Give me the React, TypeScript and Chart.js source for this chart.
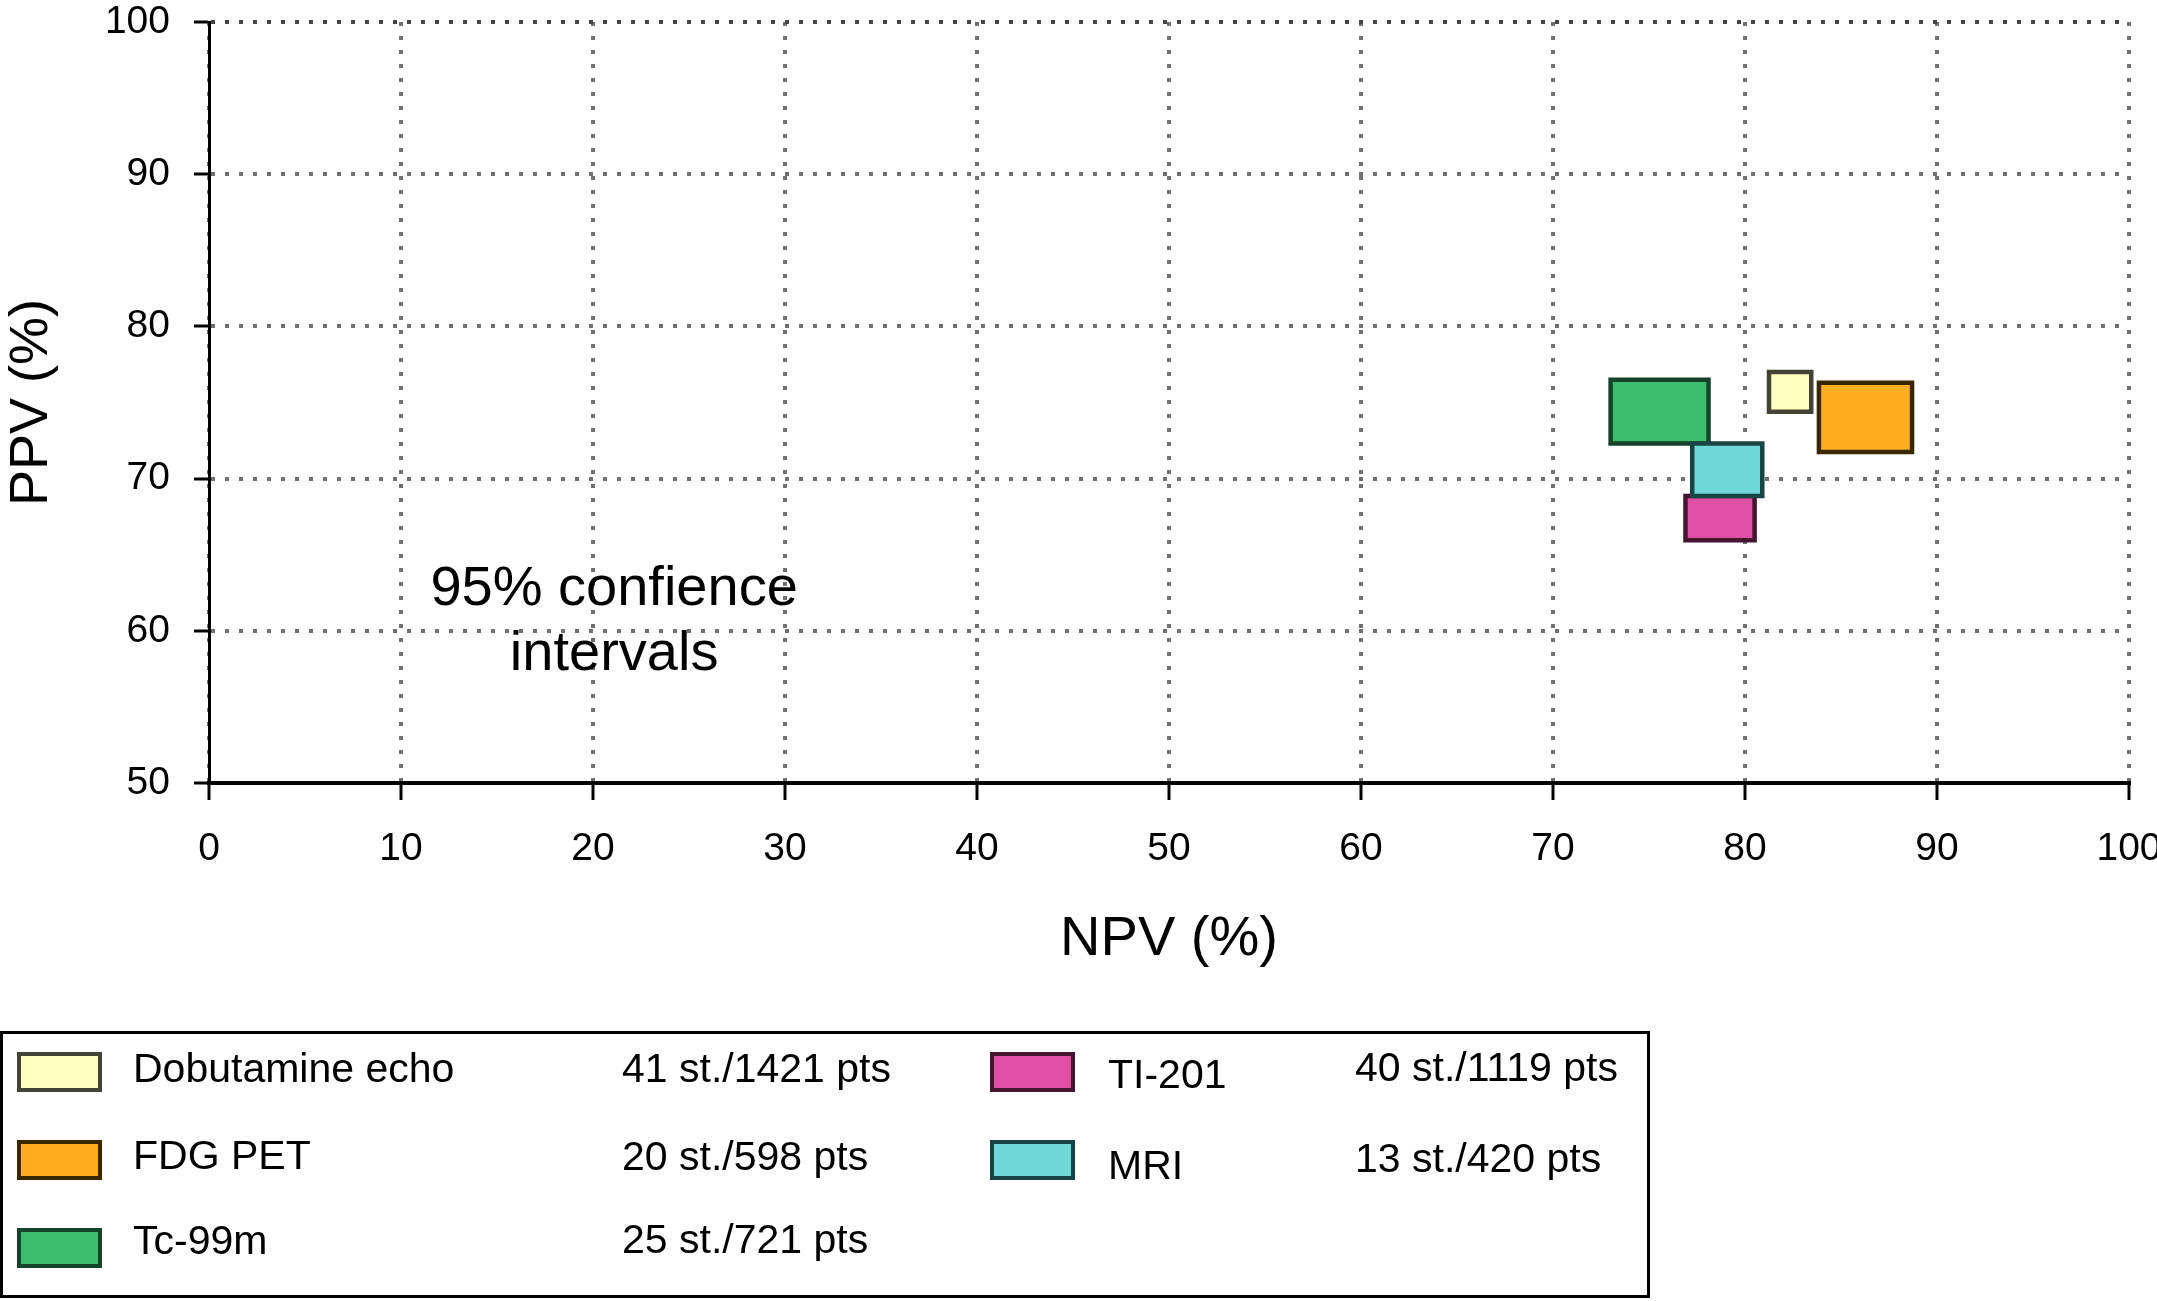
import React, { useEffect, useRef } from "react";
import { Chart, registerables } from "chart.js";

Chart.register(...registerables);

// ---- data ----
const methods = ["Dobutamine echo", "FDG PET", "Tc-99m", "TI-201", "MRI"];
const studies = ["41 st./1421 pts", "20 st./598 pts", "25 st./721 pts", "40 st./1119 pts", "13 st./420 pts"];
const npvLow = [81.25, 83.85, 73.0, 76.9, 77.25];
const npvHigh = [83.45, 88.7, 78.1, 80.5, 80.9];
const ppvLow = [74.4, 71.75, 72.3, 65.95, 68.85];
const ppvHigh = [77.0, 76.3, 76.5, 68.85, 72.3];
const noteLines = ["95% confience", "intervals"];

// ---- styles ----
const fillColors = ["#FFFFC2", "#FFAE1F", "#3DBE6E", "#E04FA6", "#6ED8D8"];
const edgeColors = ["#444436", "#3a2800", "#17432b", "#451630", "#184444"];
const drawOrder = [1, 1, 1, 1, 0];
const FONT = "'Liberation Sans', Arial, Helvetica, sans-serif";
const NOTE_X = 21.1;
const NOTE_Y = [61.7, 57.4];

// legend layout (page pixels)
const colSwatchX = [17, 990];
const colNameX = [133, 1108];
const colStatX = [622, 1355];
const swatchTop = [1052, 1140, 1228];
const nameBase = [[1083, 1170, 1255], [1089, 1180]];
const statBase = [[1083, 1171, 1254], [1082, 1173]];

const notePlugin = {
  id: "note",
  afterDatasetsDraw(chart: any) {
    const { ctx, scales } = chart;
    ctx.save();
    ctx.font = `56px ${FONT}`;
    ctx.fillStyle = "#000";
    ctx.textAlign = "center";
    ctx.textBaseline = "alphabetic";
    noteLines.forEach((t, i) => {
      ctx.fillText(t, scales.x.getPixelForValue(NOTE_X), scales.y.getPixelForValue(NOTE_Y[i]));
    });
    ctx.restore();
  },
};

export default function App() {
  const ref = useRef<HTMLCanvasElement | null>(null);

  useEffect(() => {
    if (!ref.current) return;
    Chart.defaults.font.family = FONT;
    Chart.defaults.color = "#000";
    const datasets = methods.map((m, i) => ({
      label: m,
      data: [
        { x: npvLow[i], y: ppvLow[i] },
        { x: npvHigh[i], y: ppvLow[i] },
        { x: npvHigh[i], y: ppvHigh[i] },
        { x: npvLow[i], y: ppvHigh[i] },
        { x: npvLow[i], y: ppvLow[i] },
      ],
      showLine: true,
      fill: "shape",
      backgroundColor: fillColors[i],
      borderColor: edgeColors[i],
      borderWidth: 4.5,
      borderJoinStyle: "miter",
      borderCapStyle: "square",
      pointRadius: 0,
      pointHoverRadius: 0,
      tension: 0,
      order: drawOrder[i],
    }));

    const chart = new Chart(ref.current, {
      type: "scatter",
      data: { datasets: datasets as any },
      plugins: [notePlugin],
      options: {
        animation: false,
        responsive: true,
        maintainAspectRatio: false,
        layout: { padding: { top: 22, right: 28, left: 0, bottom: 328 } },
        plugins: { legend: { display: false }, tooltip: { enabled: false } },
        scales: {
          x: {
            type: "linear",
            min: 0,
            max: 100,
            afterFit: (s: any) => {
              s.height = 190;
              s.paddingLeft = 0;
              s.paddingRight = 0;
            },
            ticks: { stepSize: 10, padding: 26, font: { size: 39 }, color: "#000", maxRotation: 0 },
            grid: {
              color: "#707070",
              lineWidth: 4,
              tickLength: 17,
              tickColor: "#000",
              tickWidth: 3,
              tickBorderDash: [],
            },
            border: { display: true, color: "#000", width: 4, dash: [4, 10] },
            title: { display: true, text: "NPV (%)", font: { size: 56 }, color: "#000", padding: 0 },
          },
          y: {
            type: "linear",
            min: 50,
            max: 100,
            afterFit: (s: any) => {
              s.width = 209;
              s.paddingTop = 0;
              s.paddingBottom = 0;
            },
            ticks: { stepSize: 10, padding: 24, font: { size: 39 }, color: "#000" },
            grid: {
              color: (c: any) => (c.tick && c.tick.value === 100 ? "#444" : "#707070"),
              lineWidth: 4,
              tickLength: 15,
              tickColor: "#000",
              tickWidth: 3,
              tickBorderDash: [],
            },
            border: { display: true, color: "#000", width: 3, dash: [4, 10] },
            title: { display: true, text: "PPV (%)", font: { size: 54 }, color: "#000", padding: 0 },
          },
        },
      } as any,
    });
    return () => chart.destroy();
  }, []);

  const textStyle = (left: number, base: number): React.CSSProperties => ({
    position: "absolute",
    left,
    top: base - 35,
    fontFamily: FONT,
    fontSize: 41,
    lineHeight: "41px",
    color: "#000",
    whiteSpace: "nowrap",
  });

  return (
    <div style={{ position: "absolute", left: 0, top: 0, width: 2157, height: 1301, background: "#fff", overflow: "hidden" }}>
      <div style={{ position: "absolute", left: 0, top: 0, width: 2157, height: 1301 }}>
        <canvas ref={ref} />
      </div>
      <div
        style={{
          position: "absolute",
          left: 0,
          top: 1031,
          width: 1650,
          height: 267,
          border: "3px solid #000",
          boxSizing: "border-box",
        }}
      />
      {methods.map((m, i) => {
        const col = i < 3 ? 0 : 1;
        const row = i < 3 ? i : i - 3;
        return (
          <React.Fragment key={m}>
            <div
              style={{
                position: "absolute",
                left: colSwatchX[col],
                top: swatchTop[row],
                width: 85,
                height: 40,
                boxSizing: "border-box",
                background: fillColors[i],
                border: `4px solid ${edgeColors[i]}`,
              }}
            />
            <div style={textStyle(colNameX[col], nameBase[col][row])}>{m}</div>
            <div style={textStyle(colStatX[col], statBase[col][row])}>{studies[i]}</div>
          </React.Fragment>
        );
      })}
    </div>
  );
}
